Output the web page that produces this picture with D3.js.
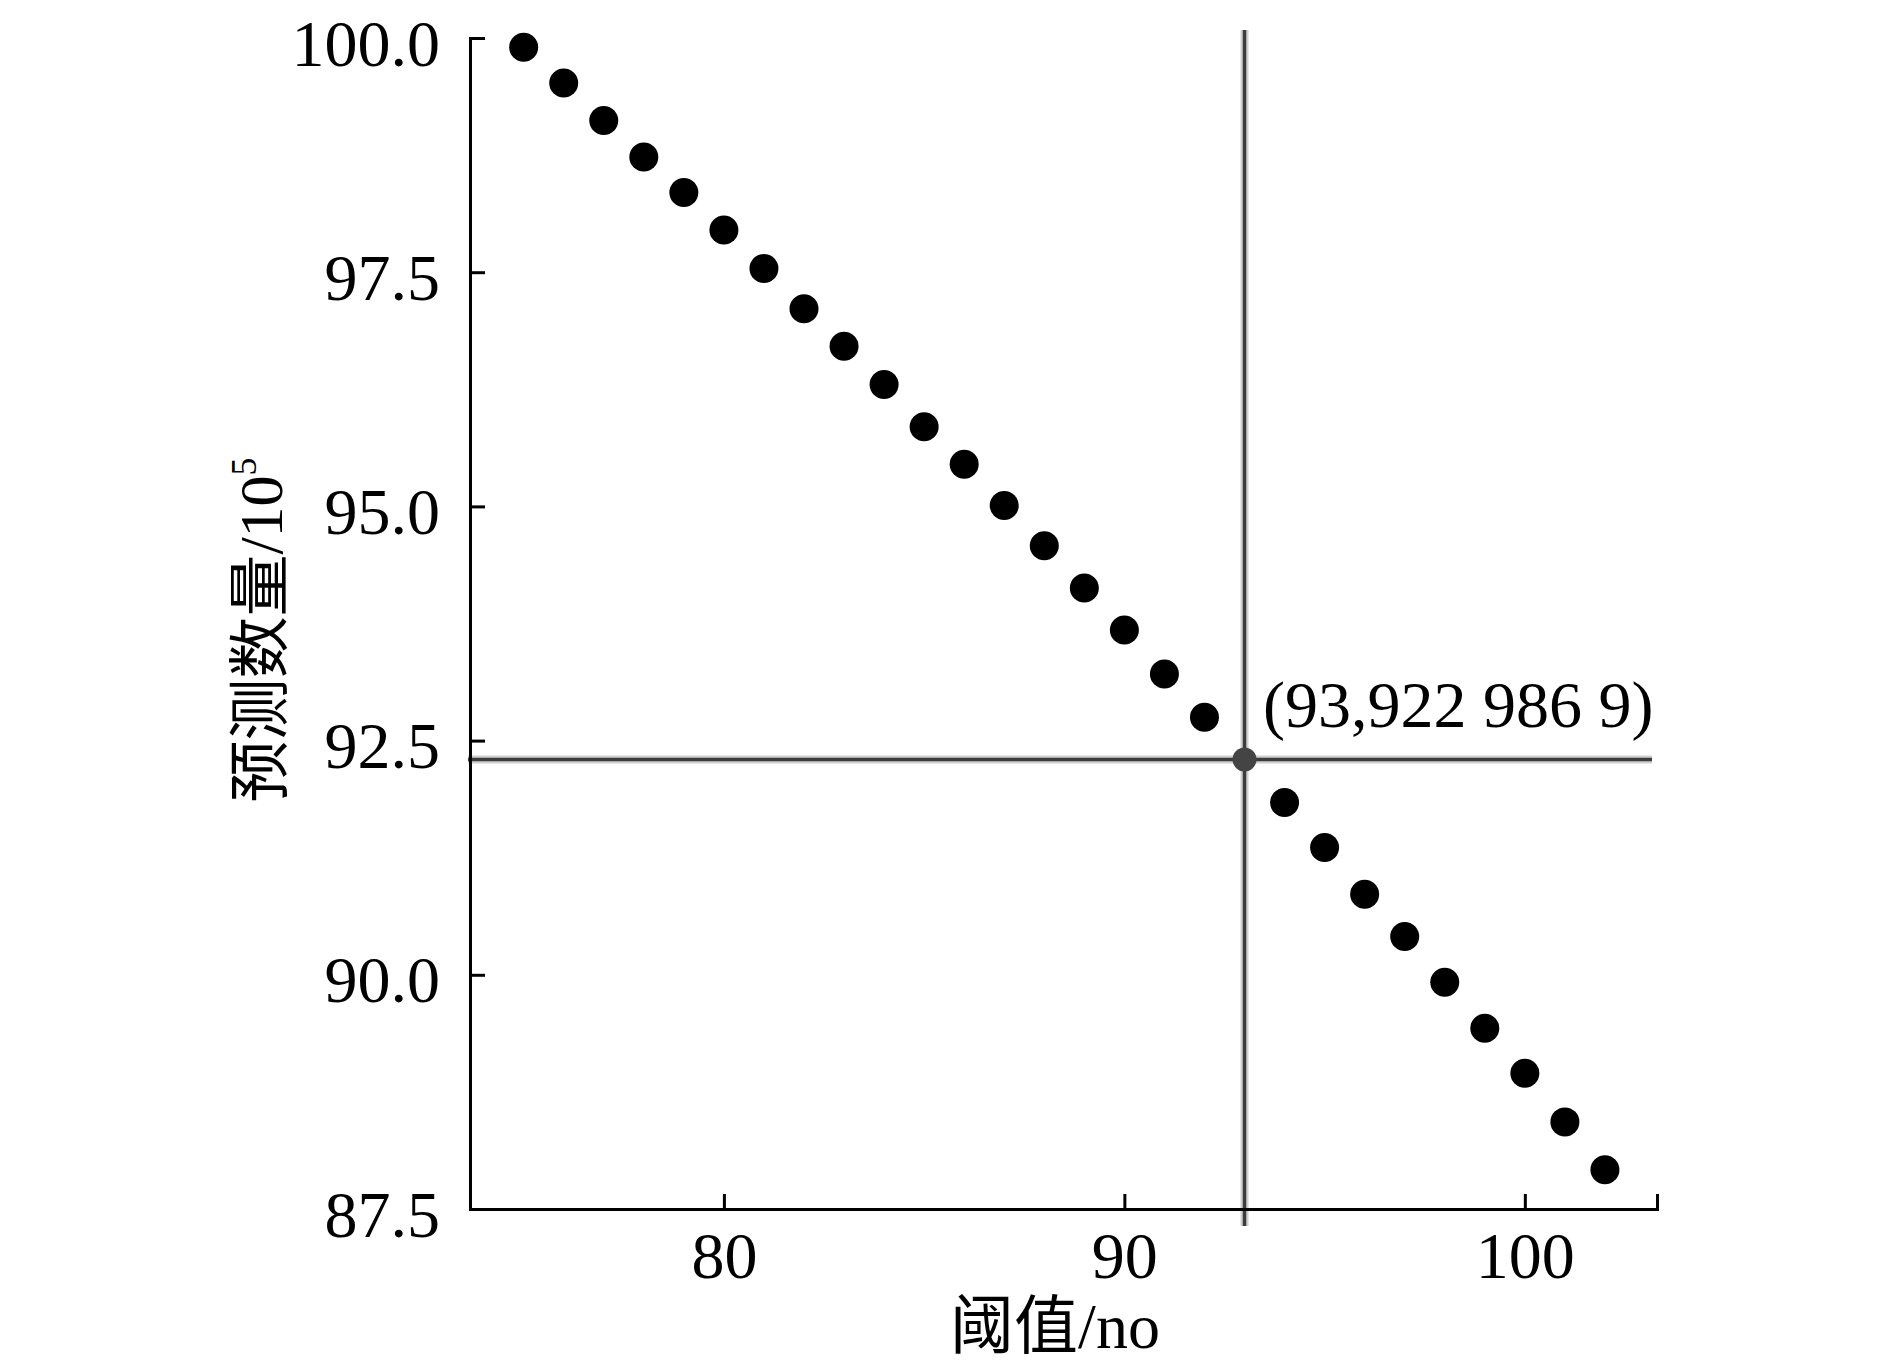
<!DOCTYPE html>
<html><head><meta charset="utf-8">
<script src="https://cdn.jsdelivr.net/npm/d3@7"></script>
<style>body{margin:0;background:#fff}svg{display:block}</style>
</head><body>
<script>
const thresholds = [75,76,77,78,79,80,81,82,83,84,85,86,87,88,89,90,91,92,94,95,96,97,98,99,100,101,102];
const predicted = [99.90,99.52,99.12,98.73,98.35,97.95,97.54,97.11,96.71,96.30,95.85,95.45,95.01,94.58,94.13,93.68,93.21,92.75,91.84,91.36,90.86,90.41,89.92,89.43,88.95,88.43,87.92];
const optimumX = 93;
const optimumY = 92.29869;
const optimumLabel = "(93,922 986 9)";
const xTicks = [80, 90, 100];
const yTicks = [87.5, 90, 92.5, 95, 97.5, 100];
const xTitle = "阈值/no";
const yTitle = "预测数量/10";
const yTitleSup = "5";

const W = 1890, H = 1372;
const svg = d3.select("body").append("svg").attr("width", W).attr("height", H);
const x = d3.scaleLinear().domain([73.66, 103.3]).range([470, 1657]);
const y = d3.scaleLinear().domain([87.5, 100]).range([1209, 38]);
const font = "'Liberation Serif','Times New Roman',serif";

// reference lines
const g = svg.append("g");
[["#d0d0d0", 8], ["#3c3c3c", 3.5]].forEach(([c, w]) => {
  g.append("line").attr("x1", x(optimumX)).attr("x2", x(optimumX)).attr("y1", 30).attr("y2", 1226)
    .attr("stroke", c).attr("stroke-width", w);
  g.append("line").attr("x1", 468).attr("x2", 1652).attr("y1", y(optimumY)).attr("y2", y(optimumY))
    .attr("stroke", c).attr("stroke-width", w);
});
g.append("circle").attr("cx", x(optimumX)).attr("cy", y(optimumY)).attr("r", 12).attr("fill", "#444");

// points
svg.append("g").selectAll("circle").data(thresholds.map((t, i) => [t, predicted[i]])).join("circle")
  .attr("cx", d => x(d[0])).attr("cy", d => y(d[1])).attr("r", 14.5).attr("fill", "#000");

// axes
const xAxis = svg.append("g").attr("transform", "translate(0,1209)")
  .call(d3.axisBottom(x).tickValues(xTicks).tickFormat(d3.format("d")).tickSize(-15).tickSizeOuter(-15).tickPadding(22));
const yAxis = svg.append("g").attr("transform", "translate(470,0)")
  .call(d3.axisLeft(y).tickValues(yTicks).tickFormat(d3.format(".1f")).tickSize(-15).tickSizeOuter(-15).tickPadding(30));
[xAxis, yAxis].forEach(a => {
  a.selectAll("path,line").attr("stroke", "#000").attr("stroke-width", 3);
  a.selectAll("text").attr("font-family", font).attr("font-size", 66).attr("fill", "#000");
});
yAxis.selectAll("text").attr("dy", "0.41em");

// annotation
svg.append("text").attr("x", 1263).attr("y", 727).attr("font-family", font).attr("font-size", 66)
  .text(optimumLabel);

// titles
svg.append("text").attr("x", 1055).attr("y", 1348).attr("text-anchor", "middle")
  .attr("font-family", font + ",'Noto Sans CJK SC'").attr("font-size", 64).text(xTitle);
const yt = svg.append("text").attr("transform", "translate(282,630) rotate(-90)").attr("text-anchor", "middle")
  .attr("font-family", font + ",'Noto Sans CJK SC'").attr("font-size", 62);
yt.append("tspan").text(yTitle);
yt.append("tspan").attr("font-size", 36).attr("dy", "-26").text(yTitleSup);
</script>
</body></html>
